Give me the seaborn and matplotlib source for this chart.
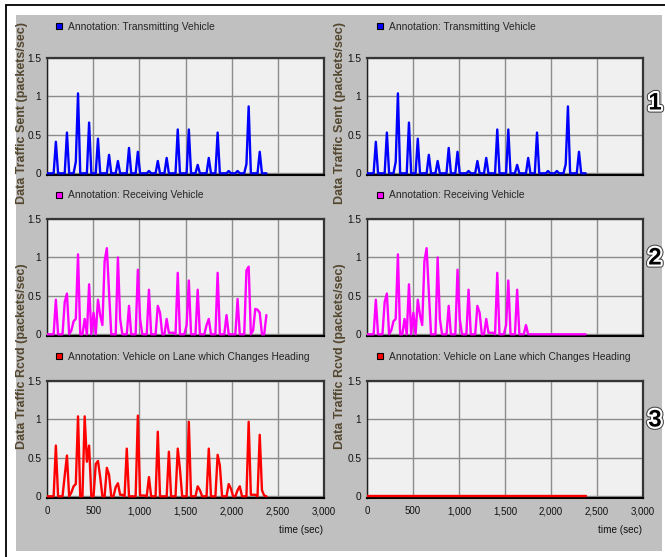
import matplotlib
matplotlib.use("Agg")
import matplotlib.pyplot as plt
import matplotlib.patheffects as pe
from matplotlib.lines import Line2D
from matplotlib.patches import Rectangle
from matplotlib import font_manager
import seaborn as sns
import pandas as pd

# ---------------- data ----------------
TIME_S = [0, 24, 48, 72, 96, 120, 144, 168, 192, 216,
          240, 264, 288, 312, 336, 360, 384, 408, 432, 456,
          480, 504, 528, 552, 576, 600, 624, 648, 672, 696,
          720, 744, 768, 792, 816, 840, 864, 888, 912, 936,
          960, 984, 1008, 1032, 1056, 1080, 1104, 1128, 1152, 1176,
          1200, 1224, 1248, 1272, 1296, 1320, 1344, 1368, 1392, 1416,
          1440, 1464, 1488, 1512, 1536, 1560, 1584, 1608, 1632, 1656,
          1680, 1704, 1728, 1752, 1776, 1800, 1824, 1848, 1872, 1896,
          1920, 1944, 1968, 1992, 2016, 2040, 2064, 2088, 2112, 2136,
          2160, 2184, 2208, 2232, 2256, 2280, 2304, 2328, 2352, 2376]

SENT = [0, 0, 0, 0, 0.41, 0, 0, 0, 0, 0.53,
        0, 0, 0, 0.15, 1.04, 0, 0, 0, 0, 0.66,
        0, 0, 0, 0.45, 0, 0, 0, 0, 0.24, 0,
        0, 0, 0.16, 0, 0, 0, 0, 0.33, 0, 0,
        0, 0.28, 0, 0, 0, 0, 0.03, 0, 0, 0,
        0.16, 0, 0, 0, 0.20, 0, 0, 0, 0, 0.57,
        0, 0, 0, 0, 0.57, 0, 0, 0, 0.11, 0,
        0, 0, 0, 0.20, 0, 0, 0, 0.53, 0, 0,
        0, 0, 0.03, 0, 0, 0, 0.03, 0, 0, 0,
        0.12, 0.87, 0, 0, 0, 0, 0.28, 0, 0, 0]

RCVD_LEFT = [0, 0, 0, 0, 0.45, 0, 0, 0, 0.42, 0.53,
             0, 0.05, 0.17, 0.20, 1.04, 0, 0, 0.20, 0, 0.65,
             0, 0.28, 0, 0.45, 0.25, 0.12, 0.95, 1.12, 0.55, 0,
             0, 0, 1.00, 0.20, 0, 0, 0, 0.37, 0, 0,
             0, 0.84, 0.20, 0, 0, 0, 0.58, 0, 0, 0,
             0.37, 0.28, 0, 0, 0.20, 0.02, 0.02, 0.02, 0, 0.80,
             0, 0, 0, 0.12, 0.70, 0, 0, 0, 0.58, 0,
             0, 0, 0.12, 0.20, 0, 0, 0, 0.80, 0, 0,
             0, 0.25, 0, 0, 0, 0, 0.46, 0, 0, 0,
             0.83, 0.88, 0, 0.05, 0.33, 0.32, 0.28, 0, 0, 0.25]

RCVD_RIGHT = [0, 0, 0, 0, 0.45, 0, 0, 0, 0.42, 0.53,
              0, 0.05, 0.17, 0.20, 1.04, 0, 0, 0.20, 0, 0.65,
              0, 0.28, 0, 0.45, 0.25, 0.12, 0.95, 1.12, 0.55, 0,
              0, 0, 1.00, 0.20, 0, 0, 0, 0.37, 0, 0,
              0, 0.84, 0.20, 0, 0, 0, 0.58, 0, 0, 0,
              0.37, 0.28, 0, 0, 0.20, 0.02, 0.02, 0.02, 0, 0.80,
              0, 0, 0, 0.12, 0.70, 0, 0, 0, 0.58, 0,
              0, 0, 0.12, 0, 0, 0, 0, 0, 0, 0,
              0, 0, 0, 0, 0, 0, 0, 0, 0, 0,
              0, 0, 0, 0, 0, 0, 0, 0, 0, 0]

HEADING_LEFT = [0, 0, 0, 0, 0.66, 0, 0, 0, 0.27, 0.53,
                0, 0.05, 0.13, 0.16, 1.04, 0, 0, 1.04, 0.45, 0.66,
                0, 0, 0.42, 0.46, 0.25, 0, 0, 0.37, 0.28, 0,
                0, 0.12, 0.17, 0.02, 0.02, 0, 0.62, 0, 0, 0,
                0, 1.05, 0.01, 0.01, 0.01, 0, 0.25, 0, 0, 0,
                0.84, 0, 0, 0, 0, 0.58, 0, 0, 0, 0.62,
                0.35, 0, 0, 0, 0.97, 0, 0, 0, 0.13, 0.08,
                0, 0, 0, 0.62, 0, 0, 0, 0.54, 0.40, 0,
                0, 0, 0.16, 0.10, 0, 0, 0.08, 0.13, 0, 0,
                0, 0.97, 0.02, 0.02, 0.02, 0, 0.80, 0.08, 0.01, 0]

HEADING_RIGHT = [0, 0, 0, 0, 0, 0, 0, 0, 0, 0,
                 0, 0, 0, 0, 0, 0, 0, 0, 0, 0,
                 0, 0, 0, 0, 0, 0, 0, 0, 0, 0,
                 0, 0, 0, 0, 0, 0, 0, 0, 0, 0,
                 0, 0, 0, 0, 0, 0, 0, 0, 0, 0,
                 0, 0, 0, 0, 0, 0, 0, 0, 0, 0,
                 0, 0, 0, 0, 0, 0, 0, 0, 0, 0,
                 0, 0, 0, 0, 0, 0, 0, 0, 0, 0,
                 0, 0, 0, 0, 0, 0, 0, 0, 0, 0,
                 0, 0, 0, 0, 0, 0, 0, 0, 0, 0]

LEGEND_LABELS = ["Annotation: Transmitting Vehicle",
                 "Annotation: Receiving Vehicle",
                 "Annotation: Vehicle on Lane which Changes Heading"]
ROW_COLORS = ["#0000ff", "#ff00ff", "#ff0000"]
ROW_NUMBERS = ["1", "2", "3"]
YLABELS = ["Data Traffic Sent (packets/sec)", "Data Traffic Rcvd (packets/sec)"]
X_TICKS = [0, 500, 1000, 1500, 2000, 2500, 3000]
X_TICK_LABELS = ["0", "500", "1,000", "1,500", "2,000", "2,500", "3,000"]
Y_TICKS = [0, 0.5, 1, 1.5]
Y_TICK_LABELS = ["0", "0.5", "1", "1.5"]
XLABEL = "time (sec)"

SERIES = [[SENT, SENT],
          [RCVD_LEFT, RCVD_RIGHT],
          [HEADING_LEFT, HEADING_RIGHT]]

# ---------------- style ----------------
sns.set_style("white")
names = {f.name for f in font_manager.fontManager.ttflist}
NARROW = "Liberation Sans Narrow" in names
FAM_N = ["Liberation Sans Narrow", "Liberation Sans", "DejaVu Sans"] if NARROW else ["Liberation Sans", "DejaVu Sans"]
FAM_R = ["Liberation Sans", "DejaVu Sans"]
plt.rcParams["font.family"] = FAM_N
S = 1.0 if NARROW else 0.82

W, H = 665, 557
def fx(px):
    return px / W
def fy(py):
    return 1 - py / H

fig = plt.figure(figsize=(W / 100, H / 100), dpi=100, facecolor="white")

# background panel and frame lines
fig.add_artist(Rectangle((fx(16), fy(551)), (662 - 16) / W, (551 - 15) / H,
                         transform=fig.transFigure, facecolor="#c0c0c0",
                         edgecolor="none", zorder=-10))
fig.add_artist(Line2D([fx(6), fx(665)], [fy(5), fy(5)], transform=fig.transFigure,
                      color="black", linewidth=1.3, zorder=-5))
fig.add_artist(Line2D([fx(6), fx(6)], [fy(5), fy(557)], transform=fig.transFigure,
                      color="black", linewidth=1.3, zorder=-5))

COLS = [(47, 324), (367, 643)]
ROWS = [(58, 175), (219, 336), (381, 498)]
LEG_Y = [26.5, 195.5, 357]
LEG_X = [55, 376]

for r, (y0, y1) in enumerate(ROWS):
    for c, (x0, x1) in enumerate(COLS):
        ax = fig.add_axes([fx(x0), fy(y1), (x1 - x0) / W, (y1 - y0) / H])
        ax.set_facecolor("#f0f0f0")
        df = pd.DataFrame({"time": TIME_S, "value": SERIES[r][c]})
        sns.lineplot(data=df, x="time", y="value", ax=ax, color=ROW_COLORS[r],
                     linewidth=1.7, estimator=None, zorder=3)
        ax.set_xlim(0, 3000)
        ax.set_ylim(-0.022, 1.5)
        ax.set_xticks(X_TICKS)
        ax.set_yticks(Y_TICKS)
        ax.set_yticklabels(Y_TICK_LABELS)
        ax.grid(True, color="#8c8c8c", linewidth=1.0, zorder=0)
        ax.set_axisbelow(True)
        ax.set_xlabel("")
        ax.set_ylabel("")
        for side in ["top", "right"]:
            ax.spines[side].set_color("#353535")
            ax.spines[side].set_linewidth(1.6)
        ax.spines["left"].set_color("#202020")
        ax.spines["left"].set_linewidth(1.0)
        ax.spines["bottom"].set_color("black")
        ax.spines["bottom"].set_linewidth(1.5)
        ax.tick_params(axis="y", direction="out", length=3, width=0.8, color="#333333",
                       labelsize=7.3, pad=1.2, labelcolor="#111111")
        if r == 2:
            ax.set_xticklabels(X_TICK_LABELS)
            ax.tick_params(axis="x", direction="out", length=3, width=1.0, color="black",
                           labelsize=7.0, pad=3, labelcolor="#111111")
        else:
            ax.tick_params(axis="x", length=0, labelbottom=False)

        handle = Line2D([], [], marker="s", linestyle="none",
                        markerfacecolor=ROW_COLORS[r], markeredgecolor="black",
                        markeredgewidth=0.8, markersize=5)
        ax.legend([handle], [LEGEND_LABELS[r]], loc="center left",
                  bbox_to_anchor=(fx(LEG_X[c]), fy(LEG_Y[r])),
                  bbox_transform=fig.transFigure, frameon=False,
                  borderaxespad=0, borderpad=0, handlelength=0.7,
                  handletextpad=0.55, prop={"family": FAM_N, "size": 9 * S})

        if r == 2:
            fig.text(fx(x1 - 1), fy(530), XLABEL, ha="right", va="center",
                     fontsize=8.8 * S, color="#111111", family=FAM_N)

# rotated y labels (one per panel row, placed as in the source export)
YL_X = [22, 340]
YL_CY = [113, 356]
for c in range(2):
    for i, lab in enumerate(YLABELS):
        fig.text(fx(YL_X[c]), fy(YL_CY[i]), lab, rotation=90, ha="center", va="center",
                 fontsize=9.0, fontweight="bold", color="#54472f", family=FAM_R)

# row numbers
NUM_Y = [103, 258, 420]
for i, num in enumerate(ROW_NUMBERS):
    fig.text(fx(655), fy(NUM_Y[i]), num, ha="center", va="center",
             fontsize=21 * S, fontweight="bold", color="black", family=FAM_N,
             path_effects=[pe.Stroke(linewidth=4.5, foreground="#444444"),
                           pe.Stroke(linewidth=3, foreground="white"),
                           pe.Normal()])

fig.savefig("out.png", dpi=100, facecolor="white")
